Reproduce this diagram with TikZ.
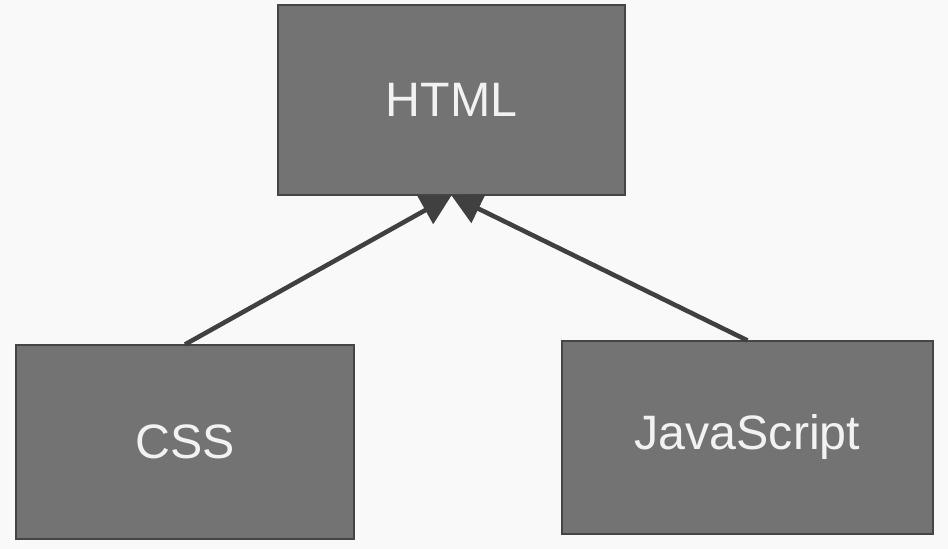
\documentclass[tikz,border=0pt]{standalone}
\usepackage{fontspec}
\setmainfont{Liberation Sans}
\usetikzlibrary{arrows.meta}
\definecolor{pagebg}{HTML}{F9F9F9}
\definecolor{boxfill}{HTML}{737373}
\definecolor{boxline}{HTML}{454545}
\definecolor{linkcol}{HTML}{404040}
\definecolor{labelcol}{HTML}{F2F2F2}
\begin{document}
\begin{tikzpicture}[
  block/.style={draw=boxline, fill=boxfill, line width=0.6pt, inner sep=0pt,
    text=labelcol, font=\fontsize{27.5}{32}\selectfont},
  link/.style={linkcol, line width=2.6pt, -{Triangle[length=0.6cm, width=0.62cm]}},
  >=latex
]
% page
\fill[pagebg] (0,0) rectangle (18.96,10.98);
\useasboundingbox (0,0) rectangle (18.96,10.98);

% blocks
\node[block, minimum width=6.94cm, minimum height=3.8cm] (html) at (9.03,8.98) {HTML};
\node[block, minimum width=6.76cm, minimum height=3.88cm] (css) at (3.7,2.14) {CSS};
\node[block, minimum width=7.42cm, minimum height=3.86cm] (js) at (14.95,2.23) {JavaScript};

% links
\draw[link] (css.north) -- (html.south);
\draw[link] (js.north) -- (html.south);

\end{tikzpicture}
\end{document}
